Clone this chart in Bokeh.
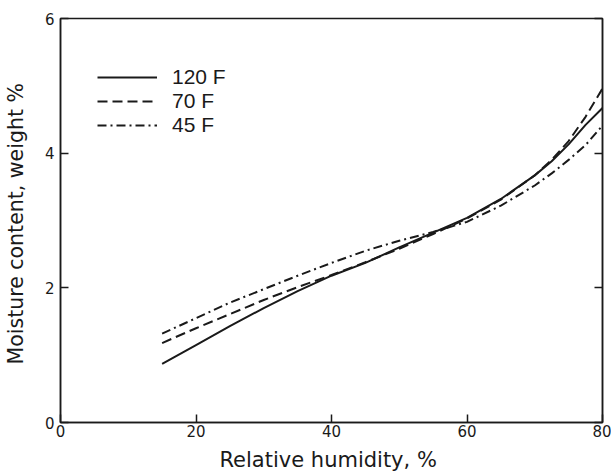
from bokeh.plotting import figure
from bokeh.models import Range1d, LinearAxis, Legend, LegendItem, FixedTicker
from bokeh.embed import file_html
from bokeh.resources import INLINE

# Data
rh = [15, 20, 25, 30, 35, 40, 45, 50, 55, 60, 65, 70, 72.5, 75, 77.5, 80]
m_120F = [0.87, 1.15, 1.43, 1.70, 1.95, 2.18, 2.37, 2.60, 2.82, 3.04, 3.32, 3.67, 3.88, 4.13, 4.42, 4.67]
m_70F = [1.18, 1.40, 1.61, 1.82, 2.01, 2.19, 2.38, 2.58, 2.80, 3.03, 3.31, 3.67, 3.90, 4.18, 4.54, 4.96]
m_45F = [1.32, 1.55, 1.78, 1.98, 2.18, 2.37, 2.55, 2.70, 2.83, 2.98, 3.22, 3.52, 3.70, 3.90, 4.12, 4.41]
series_labels = ["120 F", "70 F", "45 F"]
x_ticks = [0, 20, 40, 60, 80]
y_ticks = [0, 2, 4, 6]

FONT = "DejaVu Sans"
LEG_FONT = "Liberation Sans"
INK = "#1a1a1a"

p = figure(width=611, height=474, output_backend="svg", toolbar_location=None,
           x_range=Range1d(0, 80), y_range=Range1d(0, 6),
           min_border_left=60, min_border_right=9, min_border_top=18, min_border_bottom=51)
p.xgrid.visible = False
p.ygrid.visible = False
p.outline_line_color = INK
p.outline_line_width = 1.5
p.background_fill_color = "white"
p.border_fill_color = "white"

for ax in (p.xaxis[0], p.yaxis[0]):
    ax.axis_line_color = INK
    ax.axis_line_width = 1.5
    ax.major_tick_in = 8
    ax.major_tick_out = 0
    ax.major_tick_line_color = INK
    ax.major_tick_line_width = 1.5
    ax.minor_tick_line_color = None
    ax.major_label_text_font = FONT
    ax.major_label_text_font_size = "15px"
    ax.major_label_text_color = INK
    ax.axis_label_text_font = FONT
    ax.axis_label_text_font_style = "normal"
    ax.axis_label_text_color = INK

p.xaxis[0].ticker = FixedTicker(ticks=x_ticks)
p.yaxis[0].ticker = FixedTicker(ticks=y_ticks)
p.xaxis[0].axis_label = "Relative humidity,  %"
p.yaxis[0].axis_label = "Moisture content,  weight %"
p.xaxis[0].axis_label_text_font_size = "21px"
p.yaxis[0].axis_label_text_font_size = "20.5px"
p.xaxis[0].major_label_standoff = 2
p.yaxis[0].major_label_standoff = 6
p.xaxis[0].axis_label_standoff = 8
p.yaxis[0].axis_label_standoff = 14

right = LinearAxis(ticker=FixedTicker(ticks=y_ticks), major_label_text_color=None,
                   major_tick_in=8, major_tick_out=0, minor_tick_line_color=None,
                   axis_line_color=INK, axis_line_width=1.5,
                   major_tick_line_color=INK, major_tick_line_width=1.5)
p.add_layout(right, "right")

r1 = p.line(rh, m_120F, line_color=INK, line_width=2)
r2 = p.line(rh, m_70F, line_color=INK, line_width=2, line_dash="10 5")
r3 = p.line(rh, m_45F, line_color=INK, line_width=2, line_dash="9 4 2 4")

legend = Legend(items=[LegendItem(label=series_labels[0], renderers=[r1]),
                       LegendItem(label=series_labels[1], renderers=[r2]),
                       LegendItem(label=series_labels[2], renderers=[r3])],
                location=(37, 285), glyph_width=60, glyph_height=20, label_height=20,
                label_standoff=15, spacing=0, padding=0, margin=0,
                border_line_alpha=0, background_fill_alpha=0,
                label_text_font=LEG_FONT, label_text_font_size="21px", label_text_color=INK)
p.add_layout(legend, "center")

open("out.html", "w").write(file_html(p, INLINE))
